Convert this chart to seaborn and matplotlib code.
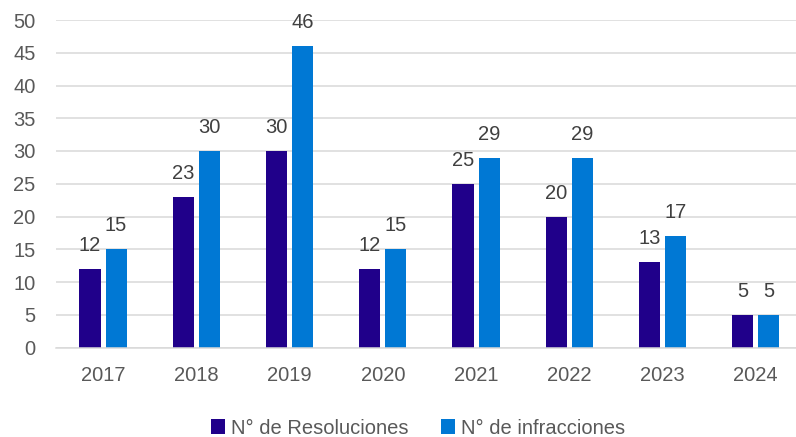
import pandas as pd
import matplotlib
matplotlib.use("Agg")
import matplotlib.pyplot as plt
import seaborn as sns

# data
years = ["2017", "2018", "2019", "2020", "2021", "2022", "2023", "2024"]
resoluciones = [12, 23, 30, 12, 25, 20, 13, 5]
infracciones = [15, 30, 46, 15, 29, 29, 17, 5]
series_names = ["N° de Resoluciones", "N° de infracciones"]
colors = ["#20008A", "#0078D4"]

df = pd.DataFrame({
    "year": years * 2,
    "value": resoluciones + infracciones,
    "serie": [series_names[0]] * len(years) + [series_names[1]] * len(years),
})

sns.set_style("white")
plt.rcParams["font.family"] = ["Liberation Sans", "DejaVu Sans"]
text_color = "#595959"

fig = plt.figure(figsize=(7.96, 4.37), dpi=100)
ax = fig.add_axes([56.4 / 796, 89.5 / 437, 746 / 796, 327.5 / 437])

sns.barplot(data=df, x="year", y="value", hue="serie", palette=colors,
            saturation=1, width=0.56, gap=0.19, ax=ax, legend=True,
            edgecolor="none")

# value labels on top of bars
for cont in ax.containers:
    ax.bar_label(cont, padding=10, fontsize=14.5, color="#404040")

ax.set_xlim(-0.5, len(years) - 0.5)
ax.set_ylim(0, 50)
ax.set_yticks(range(0, 51, 5))
ax.yaxis.grid(True, color="#D9D9D9", linewidth=1.1)
ax.set_axisbelow(True)
for s in ["top", "right", "left"]:
    ax.spines[s].set_visible(False)
ax.spines["bottom"].set_color("#D9D9D9")
ax.spines["bottom"].set_linewidth(1.1)
ax.tick_params(axis="y", length=0, pad=15, labelsize=14.5, labelcolor=text_color)
ax.tick_params(axis="x", length=0, pad=13, labelsize=14.5, labelcolor=text_color)
ax.set_xlabel("")
ax.set_ylabel("")

ax.legend_.remove()
handles, labels = ax.get_legend_handles_labels()
fig.legend(handles, labels, loc="center", bbox_to_anchor=(418 / 796, 1 - 428 / 437),
           ncol=2, frameon=False, fontsize=14.5, labelcolor=text_color,
           handlelength=0.7, handleheight=0.7, handletextpad=0.3, columnspacing=1.6)

fig.savefig("out.png", dpi=100)
